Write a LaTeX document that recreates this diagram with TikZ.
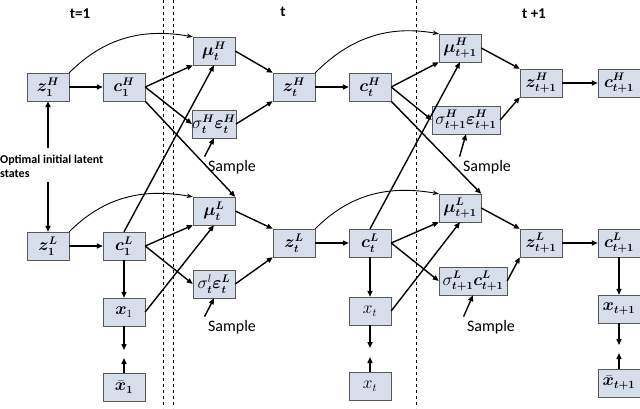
\documentclass[tikz,border=0pt]{standalone}
\usepackage{fontspec}
\usepackage{amsmath}
\usepackage{bm}
\newfontfamily\lab{Carlito}
\usetikzlibrary{arrows.meta}
\definecolor{boxfill}{RGB}{214,222,236}
\begin{document}
\begin{tikzpicture}[x=1pt,y=-1pt,
 bx/.style={draw=gray!70!black,fill=boxfill,minimum width=42pt,minimum height=28pt,inner sep=0pt,font=\fontsize{16}{18}\selectfont},
 a/.style={-{Triangle[length=6pt,width=5pt]},line width=1.4pt},
 c/.style={-{Stealth[length=6pt]},line width=0.9pt},
 lb/.style={font=\lab\fontsize{16}{18}\selectfont}]
\useasboundingbox (0,0) rectangle (640,408);
\clip (0,0) rectangle (640,408);
\draw[dashed,line width=0.8pt] (163,0)--(163,408) (173,0)--(173,408);
\draw[dashed,line width=0.6pt] (416,0)--(416,408);
\node[font=\lab\bfseries\fontsize{15}{17}\selectfont] (t1) at (80,14) {t=1};
\node[font=\lab\bfseries\fontsize{15}{17}\selectfont] (tt) at (283,12) {t};
\node[font=\lab\bfseries\fontsize{15}{17}\selectfont] (tp) at (534,14) {t +1};
\node[bx] (z1H) at (48,87) {$\bm{z}_{\bm 1}^{\bm H}$};
\node[bx] (c1H) at (124,87) {$\bm{c}_{\bm 1}^{\bm H}$};
\node[bx] (muHt) at (214,51) {$\bm{\mu}_{\bm t}^{\bm H}$};
\node[bx] (sHt) at (214,124) {$\sigma_{\bm t}^{\bm H}\bm\varepsilon_{\bm t}^{\bm H}$};
\node[bx] (zHt) at (294,87) {$\bm{z}_{\bm t}^{\bm H}$};
\node[bx] (cHt) at (370,87) {$\bm{c}_{\bm t}^{\bm H}$};
\node[bx] (muHn) at (460,48) {$\bm{\mu}_{\bm{t+1}}^{\bm H}$};
\node[bx,minimum width=68pt] (sHn) at (466,120) {$\sigma_{\bm{t+1}}^{\bm H}\bm\varepsilon_{\bm{t+1}}^{\bm H}$};
\node[bx] (zHn) at (541,83) {$\bm{z}_{\bm{t+1}}^{\bm H}$};
\node[bx] (cHn) at (619,83) {$\bm{c}_{\bm{t+1}}^{\bm H}$};
\node[bx] (z1L) at (48,246) {$\bm{z}_{\bm 1}^{\bm L}$};
\node[bx] (c1L) at (124,246) {$\bm{c}_{\bm 1}^{\bm L}$};
\node[bx] (muLt) at (214,211) {$\bm{\mu}_{\bm t}^{\bm L}$};
\node[bx] (sLt) at (214,284) {$\sigma_{\bm t}^{l}\bm\varepsilon_{\bm t}^{\bm L}$};
\node[bx] (zLt) at (294,243) {$\bm{z}_{\bm t}^{\bm L}$};
\node[bx] (cLt) at (370,243) {$\bm{c}_{\bm t}^{\bm L}$};
\node[bx] (muLn) at (460,208) {$\bm{\mu}_{\bm{t+1}}^{\bm L}$};
\node[bx,minimum width=68pt] (sLn) at (473,281) {$\sigma_{\bm{t+1}}^{\bm L}\bm{c}_{\bm{t+1}}^{\bm L}$};
\node[bx] (zLn) at (541,243) {$\bm{z}_{\bm{t+1}}^{\bm L}$};
\node[bx] (cLn) at (619,243) {$\bm{c}_{\bm{t+1}}^{\bm L}$};
\node[bx] (x1) at (124,312) {$\bm{x}_1$};
\node[bx] (xb1) at (124,387) {$\bar{\bm{x}}_{\bm 1}$};
\node[bx] (xt) at (370,311) {$x_t$};
\node[bx] (xbt) at (370,386) {$x_t$};
\node[bx] (xn) at (619,309) {$\bm{x}_{\bm{t+1}}$};
\node[bx] (xbn) at (619,383) {$\bar{\bm{x}}_{\bm{t+1}}$};
\node[anchor=west,align=left,font=\lab\bfseries\fontsize{12}{14}\selectfont,inner sep=0pt] (opt) at (0,166) {Optimal initial latent\\states};
\node[lb] (s1) at (232,167) {Sample};
\node[lb] (s2) at (232,327) {Sample};
\node[lb] (s3) at (487,167) {Sample};
\node[lb] (s4) at (491,327) {Sample};
\coordinate (o1) at (48,148); \coordinate (o2) at (48,182);
\coordinate (d1) at (124,350); \coordinate (d2) at (124,358);
\coordinate (d3) at (370,348); \coordinate (d4) at (370,357);
\coordinate (d5) at (619,345); \coordinate (d6) at (619,353);
\draw[a] (o1)--(z1H.south); \draw[a] (o2)--(z1L.north);
\draw[a] (z1H)--(c1H); \draw[a] (z1L)--(c1L);
\draw[a] (zHt)--(cHt); \draw[a] (zLt)--(cLt);
\draw[a] (zHn)--(cHn); \draw[a] (zLn)--(cLn);
\draw[c] (z1H.north east) to[out=45,in=170] (muHt.north west);
\draw[c] (z1L.north east) to[out=45,in=170] (muLt.north west);
\draw[c] (zHt.north east) to[out=45,in=170] (muHn.north west);
\draw[c] (zLt.north east) to[out=45,in=170] (muLn.north west);
\draw[a] (c1H.east)--(muHt.south west); \draw[a] (c1H.east)--(sHt.west);
\draw[a] (c1H.south east)--(muLt.north east);
\draw[a] (c1L.east)--(muLt.south west); \draw[a] (c1L.east)--(sLt.west);
\draw[a] (c1L.north)--(muHt.south);
\draw[a] (x1.east)--(muLt.south);
\draw[a] (cHt.east)--(muHn.south west); \draw[a] (cHt.east)--(sHn.west);
\draw[a] (cHt.south east)--(muLn.north east);
\draw[a] (cLt.east)--(muLn.south west); \draw[a] (cLt.east)--(sLn.west);
\draw[a] (cLt.north)--(muHn.south);
\draw[a] (xt.east)--(muLn.south);
\draw[a] (muHt.east)--(zHt.north west); \draw[a] (sHt.east)--(zHt.south west);
\draw[a] (muLt.east)--(zLt.north west); \draw[a] (sLt.east)--(zLt.south west);
\draw[a] (muHn.east)--(zHn.north west); \draw[a] (sHn.east)--(zHn.south west);
\draw[a] (muLn.east)--(zLn.north west); \draw[a] (sLn.east)--(zLn.south west);
\draw[a] (c1L)--(x1); \draw[a] (cLt)--(xt); \draw[a] (cLn)--(xn);
\draw[a] (x1)--(d1); \draw[a] (xb1)--(d2);
\draw[a] (xt)--(d3); \draw[a] (xbt)--(d4);
\draw[a] (xn)--(d5); \draw[a] (xbn)--(d6);
\draw[a] (s1.north west)--(sHt.south); \draw[a] (s2.north west)--(sLt.south);
\draw[a] (s3.north west)--(sHn.south); \draw[a] (s4.north west)--(sLn.south);
\end{tikzpicture}
\end{document}
